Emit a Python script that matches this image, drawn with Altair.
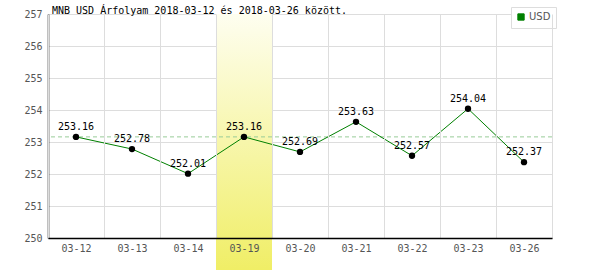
import altair as alt
import pandas as pd

dates = ["03-12", "03-13", "03-14", "03-19", "03-20", "03-21", "03-22", "03-23", "03-26"]
values = [253.16, 252.78, 252.01, 253.16, 252.69, 253.63, 252.57, 254.04, 252.37]
series = "USD"
highlight = ["03-19"]
reference_value = 253.16
y_ticks = [250, 251, 252, 253, 254, 255, 256, 257]
title_text = "MNB USD Árfolyam 2018-03-12 és 2018-03-26 között."

df = pd.DataFrame({"date": dates, "value": values, "series": [series] * len(dates)})
hl = pd.DataFrame({"date": highlight})
ref = pd.DataFrame({"ref": [reference_value]})

MONO = "DejaVu Sans Mono"

x_enc = alt.X(
    "date:O",
    sort=dates,
    scale=alt.Scale(domain=dates, paddingInner=0, paddingOuter=0),
    axis=alt.Axis(
        title=None, tickBand="extent", grid=True, ticks=False, labelAngle=0,
        labelPadding=5, labelFont=MONO, labelFontSize=10, labelColor="#555555",
        domainColor="#000000", domainWidth=1.5, gridColor="#dddddd",
    ),
)
y_scale = alt.Scale(domain=[250, 257], nice=False, zero=False)
y_axis = alt.Axis(
    title=None, values=y_ticks, format="d", ticks=False, labelPadding=6,
    labelFont=MONO, labelFontSize=10, labelColor="#555555",
    domainColor="#000000", domainWidth=1.5, gridColor="#dddddd",
)

band = alt.Chart(hl).mark_rect(
    color=alt.Gradient(
        gradient="linear", x1=0, y1=0, x2=0, y2=1,
        stops=[alt.GradientStop(color="#fefef0", offset=0),
               alt.GradientStop(color="#f0ee66", offset=1)],
    ),
    clip=False,
).encode(x=x_enc, y=alt.value(0), y2=alt.value(256))

rule = alt.Chart(ref).mark_rule(color="#99cc99", strokeDash=[4, 3], strokeWidth=1).encode(
    y=alt.Y("ref:Q", scale=y_scale, axis=y_axis)
)

line = alt.Chart(df).mark_line(strokeWidth=1).encode(
    x=x_enc,
    y=alt.Y("value:Q", scale=y_scale, axis=y_axis),
    color=alt.Color(
        "series:N",
        scale=alt.Scale(range=["#008000"]),
        legend=alt.Legend(
            title=None, orient="none", legendX=463, legendY=-7,
            symbolType="square", symbolSize=40, symbolFillColor="#008000",
            symbolStrokeColor="#666666", symbolStrokeWidth=1,
            labelFont="DejaVu Sans", labelFontSize=10, labelColor="#555555",
            strokeColor="#dddddd", padding=5, fillColor="#ffffff", labelOffset=3,
        ),
    ),
)

points = alt.Chart(df).mark_circle(size=40, color="#000000", opacity=1).encode(
    x=x_enc, y=alt.Y("value:Q", scale=y_scale, axis=y_axis)
)

labels = alt.Chart(df).mark_text(
    dy=-7, baseline="alphabetic", font=MONO, fontSize=10, color="#000000"
).encode(
    x=x_enc, y=alt.Y("value:Q", scale=y_scale, axis=y_axis),
    text=alt.Text("value:Q", format=".2f"),
)

chart = alt.layer(band, rule, line, points, labels).properties(
    width=504, height=224,
    autosize=alt.AutoSizeParams(type="none"),
    padding={"left": 48, "top": 14, "right": 48, "bottom": 32},
    title=alt.TitleParams(
        title_text, anchor="start", frame="group", dx=4, font=MONO, fontSize=10,
        fontWeight="normal", color="#000000", baseline="alphabetic", offset=-17,
    ),
).configure_view(stroke="#dddddd")

chart.save("out.html", embed_options={"renderer": "svg", "actions": False})
